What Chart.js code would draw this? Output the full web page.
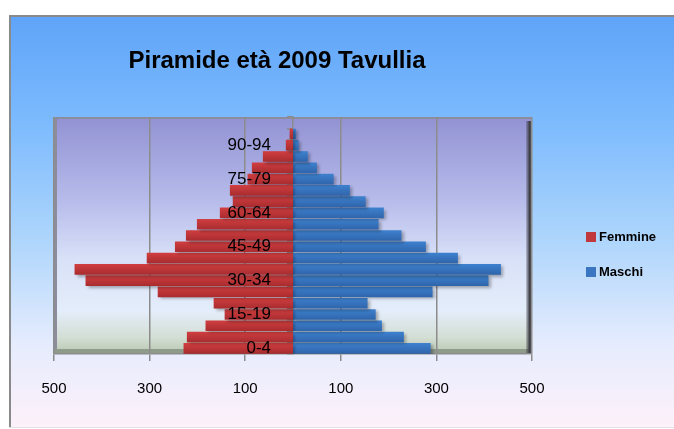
<!DOCTYPE html>
<html>
<head>
<meta charset="utf-8">
<script src="https://cdn.jsdelivr.net/npm/chart.js@4.4.1/dist/chart.umd.min.js"></script>
<style>
html, body { margin: 0; padding: 0; background: #fff; }
#wrap { width: 674px; height: 429px; }
</style>
</head>
<body>
<div id="wrap"><canvas id="chart" width="674" height="429"></canvas></div>
<script>
const ageGroups = ['0-4', '5-9', '10-14', '15-19', '20-24', '25-29', '30-34', '35-39', '40-44', '45-49',
    '50-54', '55-59', '60-64', '65-69', '70-74', '75-79', '80-84', '85-89', '90-94', '95-99', '100+'];
const femmine = [229, 222, 183, 143, 166, 283, 434, 457, 306, 247, 224, 201, 153, 126, 132, 95, 86, 63, 15, 7, 0];
const maschi = [288, 232, 186, 173, 156, 292, 409, 435, 345, 278, 227, 179, 190, 152, 119, 85, 50, 31, 12, 6, 0];
const xTicks = [-500, -300, -100, 100, 300, 500];
const chartTitle = 'Piramide età 2009 Tavullia';

Chart.defaults.font.family = '"Liberation Sans", Arial, sans-serif';
Chart.defaults.color = '#000';

function barFill(top, bottom) {
    return function (context) {
        const y = context.chart.scales.y;
        if (!y || context.dataIndex === undefined) return top;
        const c = y.getPixelForValue(context.dataIndex);
        const h = y.height / ageGroups.length / 2;
        if (!isFinite(c) || !isFinite(h) || h <= 0) return top;
        const g = context.chart.ctx.createLinearGradient(0, c - h, 0, c + h);
        g.addColorStop(0, top);
        g.addColorStop(1, bottom);
        return g;
    };
}

const backdrop = {
    id: 'backdrop',
    beforeDraw(chart) {
        const ctx = chart.ctx;
        const ca = chart.chartArea;
        ctx.save();
        ctx.fillStyle = '#fff';
        ctx.fillRect(0, 0, chart.width, chart.height);

        let g = ctx.createLinearGradient(0, 17, 0, 427);
        g.addColorStop(0, '#5fa4f8');
        g.addColorStop(0.25, '#7bbafd');
        g.addColorStop(0.55, '#afd6fc');
        g.addColorStop(0.8, '#e6ecfd');
        g.addColorStop(1, '#fdf1fa');
        ctx.fillStyle = g;
        ctx.fillRect(9, 15, chart.width - 9, 413);
        ctx.fillStyle = '#8a8a8a';
        ctx.fillRect(9, 15, chart.width - 9, 2);
        ctx.fillRect(9, 15, 2, 413);
        ctx.fillStyle = '#e2e2e6';
        ctx.fillRect(9, 427, chart.width - 9, 1);

        g = ctx.createLinearGradient(0, ca.top, 0, ca.bottom);
        g.addColorStop(0, '#9292d3');
        g.addColorStop(0.35, '#b6bbea');
        g.addColorStop(0.6, '#d9e1f8');
        g.addColorStop(0.82, '#e4edfa');
        g.addColorStop(0.93, '#d3ded4');
        g.addColorStop(1, '#b9c7b2');
        ctx.fillStyle = g;
        ctx.fillRect(ca.left, ca.top, ca.width, ca.height);

        ctx.fillStyle = '#8c8c9c';
        ctx.fillRect(ca.left, ca.top, ca.width, 2);
        ctx.fillRect(ca.left, ca.top, 3, ca.height);
        ctx.fillStyle = '#8e9a8a';
        ctx.fillRect(ca.left, ca.bottom - 5, ca.width, 5);
        g = ctx.createLinearGradient(ca.right - 6, 0, ca.right, 0);
        g.addColorStop(0, 'rgba(60,60,70,0.2)');
        g.addColorStop(0.6, '#3c3c44');
        g.addColorStop(1, '#6c6c74');
        ctx.fillStyle = g;
        ctx.fillRect(ca.right - 6, ca.top + 4, 6, ca.height - 4);
        ctx.restore();
    },
    beforeDatasetsDraw(chart) {
        const ctx = chart.ctx;
        ctx.save();
        ctx.shadowColor = 'rgba(0,0,0,0.3)';
        ctx.shadowBlur = 3;
        ctx.shadowOffsetX = 2;
        ctx.shadowOffsetY = 2;
    },
    afterDatasetsDraw(chart) {
        chart.ctx.restore();
    },
    afterDraw(chart) {
        const ctx = chart.ctx;
        ctx.save();
        ctx.fillStyle = '#000';
        ctx.font = 'bold 24px "Liberation Sans", Arial, sans-serif';
        ctx.textAlign = 'center';
        ctx.textBaseline = 'alphabetic';
        ctx.fillText(chartTitle, 277, 68);

        ctx.font = 'bold 13px "Liberation Sans", Arial, sans-serif';
        ctx.textAlign = 'left';
        ctx.textBaseline = 'middle';
        chart.data.datasets.forEach(function (ds, i) {
            const y = 237 + i * 35;
            ctx.fillStyle = ds.legendColor;
            ctx.fillRect(586, y - 5, 10, 10);
            ctx.fillStyle = '#000';
            ctx.fillText(ds.label, 599, y);
        });
        ctx.restore();
    }
};

new Chart(document.getElementById('chart'), {
    type: 'bar',
    data: {
        labels: ageGroups,
        datasets: [
            {
                label: 'Femmine',
                data: femmine.map(v => -v),
                backgroundColor: barFill('#d23f41', '#a72b2e'),
                legendColor: '#c0383b',
                barPercentage: 0.94,
                categoryPercentage: 1
            },
            {
                label: 'Maschi',
                data: maschi,
                backgroundColor: barFill('#3f82d0', '#2e64aa'),
                legendColor: '#3a76c2',
                barPercentage: 0.94,
                categoryPercentage: 1
            }
        ]
    },
    options: {
        indexAxis: 'y',
        responsive: false,
        animation: false,
        layout: { padding: { left: 54, top: 117, right: 142, bottom: 12 } },
        plugins: {
            legend: { display: false },
            title: { display: false },
            tooltip: { enabled: false }
        },
        scales: {
            x: {
                min: -500,
                max: 500,
                stacked: true,
                afterBuildTicks: axis => { axis.ticks = xTicks.map(v => ({ value: v })); },
                ticks: {
                    callback: v => Math.abs(v),
                    font: { size: 15 },
                    padding: 19
                },
                grid: { color: '#8c8c8c', lineWidth: 1.5, tickLength: 7 },
                border: { color: '#8c8c8c', width: 1.5 }
            },
            y: {
                type: 'category',
                reverse: true,
                stacked: true,
                position: { x: 0 },
                ticks: { display: false },
                grid: { drawOnChartArea: false, color: '#8c8c8c', tickLength: 5, lineWidth: 1.5 },
                border: { color: '#8c8c8c', width: 1.5 }
            },
            yLabels: {
                type: 'category',
                reverse: true,
                offset: true,
                position: { x: -46 },
                grid: { display: false },
                border: { display: false },
                ticks: {
                    z: 1,
                    autoSkip: false,
                    font: { size: 17 },
                    callback: function (v, i) { return i % 3 === 0 ? this.getLabelForValue(v) : ''; }
                }
            }
        }
    },
    plugins: [backdrop]
});
</script>
</body>
</html>
